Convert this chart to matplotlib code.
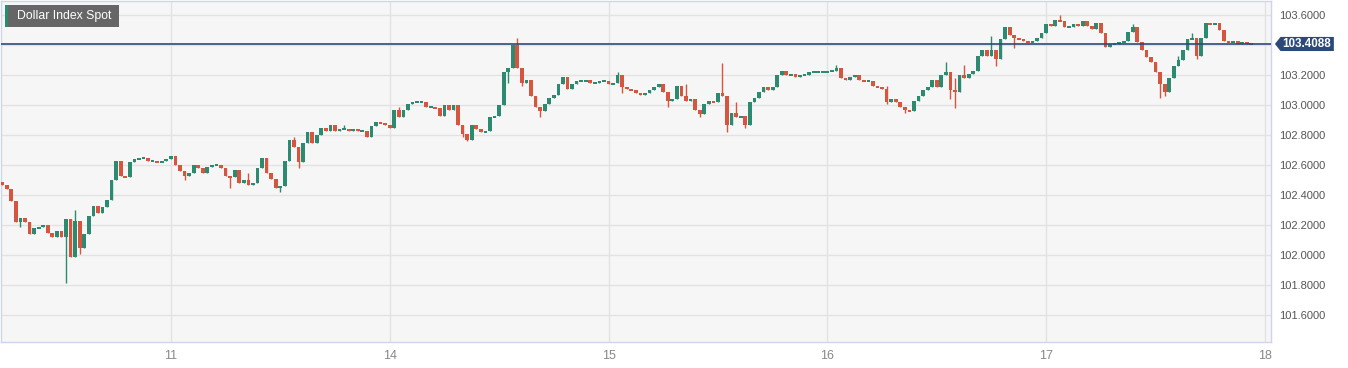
import numpy as np
import matplotlib.pyplot as plt
from matplotlib.patches import Rectangle, Polygon
from matplotlib.transforms import blended_transform_factory

plt.rcParams['font.family'] = ['Liberation Sans', 'DejaVu Sans']

# 30-minute candles, x measured in trading days (0 = start of the 10th)
first_open = 102.49
closes = [
    # 10th
    102.47, 102.44, 102.36, 102.22, 102.25, 102.22, 102.14, 102.18, 102.19, 102.20,
    102.15, 102.12, 102.16, 102.12, 102.24, 101.99, 102.23, 102.05, 102.14, 102.26,
    102.33, 102.28, 102.32, 102.37, 102.50, 102.63, 102.53, 102.52, 102.62, 102.64,
    102.65, 102.65, 102.63, 102.63, 102.62, 102.63, 102.64,
    # 11th
    102.66, 102.60, 102.56, 102.53, 102.55, 102.60, 102.58, 102.55, 102.59, 102.60,
    102.60, 102.58, 102.53, 102.52, 102.57, 102.48, 102.50, 102.47, 102.48, 102.58,
    102.65, 102.55, 102.51, 102.45, 102.46, 102.63, 102.77, 102.72, 102.62, 102.75,
    102.82, 102.75, 102.80, 102.85, 102.83, 102.87, 102.83, 102.84, 102.84, 102.83,
    102.84, 102.83, 102.83, 102.79, 102.86, 102.89, 102.88, 102.87,
    # 14th
    102.85, 102.97, 102.92, 102.97, 103.01, 103.02, 103.02, 103.02, 102.99, 102.99,
    102.98, 102.93, 103.00, 102.97, 103.00, 102.87, 102.81, 102.77, 102.87, 102.84,
    102.82, 102.83, 102.92, 102.93, 103.00, 103.22, 103.25, 103.40, 103.25, 103.15,
    103.17, 103.06, 102.99, 102.96, 103.01, 103.05, 103.07, 103.14, 103.19, 103.11,
    103.14, 103.16, 103.16, 103.17, 103.15, 103.15, 103.16, 103.16,
    # 15th
    103.14, 103.15, 103.20, 103.12, 103.11, 103.10, 103.08, 103.07, 103.08, 103.10,
    103.12, 103.14, 103.09, 103.03, 103.04, 103.13, 103.06, 103.03, 103.04, 102.97,
    102.94, 103.01, 103.03, 103.02, 103.08, 103.06, 102.87, 102.95, 102.92, 102.93,
    102.87, 103.02, 103.05, 103.09, 103.12, 103.10, 103.12, 103.20, 103.23, 103.20,
    103.21, 103.19, 103.20, 103.20, 103.22, 103.22, 103.22, 103.22,
    # 16th
    103.23, 103.23, 103.25, 103.18, 103.17, 103.19, 103.20, 103.17, 103.16, 103.16,
    103.13, 103.12, 103.11, 103.02, 103.04, 103.02, 102.99, 102.97, 102.96, 103.03,
    103.06, 103.10, 103.12, 103.17, 103.12, 103.20, 103.22, 103.10, 103.09, 103.20,
    103.18, 103.21, 103.23, 103.33, 103.37, 103.33, 103.37, 103.31, 103.44, 103.52,
    103.47, 103.45, 103.44, 103.43, 103.42, 103.43, 103.45, 103.48,
    # 17th
    103.54, 103.53, 103.57, 103.56, 103.52, 103.52, 103.54, 103.53, 103.56, 103.53,
    103.51, 103.55, 103.48, 103.39, 103.41, 103.41, 103.42, 103.43, 103.49, 103.52,
    103.42, 103.37, 103.32, 103.29, 103.22, 103.14, 103.09, 103.18, 103.26, 103.30,
    103.37, 103.44, 103.45, 103.33, 103.45, 103.55, 103.54, 103.55, 103.50, 103.43,
    103.42, 103.43, 103.41, 103.42, 103.41, 103.4088,
]

# wick extremes that reach beyond the candle body
wick_highs = {16: 102.30, 54: 102.55, 64: 102.79, 75: 102.87, 87: 102.99,
              113: 103.45, 135: 103.22, 150: 103.14, 158: 103.28, 161: 103.02,
              183: 103.27, 194: 103.13, 207: 103.29, 209: 103.18, 211: 103.27,
              217: 103.46, 232: 103.60, 248: 103.54, 258: 103.33, 261: 103.48}
wick_lows = {4: 102.19, 14: 101.815, 17: 102.01, 40: 102.50, 50: 102.45,
             61: 102.42, 65: 102.58, 101: 102.79, 102: 102.76, 111: 103.15,
             114: 103.13, 118: 102.92, 136: 103.08, 146: 102.99, 153: 102.92,
             159: 102.82, 163: 102.85, 194: 103.01, 198: 102.95, 208: 103.04,
             209: 102.98, 218: 103.26, 222: 103.38, 254: 103.05, 255: 103.06,
             262: 103.31}

day_ticks = [1, 2, 3, 4, 5, 6]
day_labels = ['11', '14', '15', '16', '17', '18']
price_ticks = [101.6, 101.8, 102.0, 102.2, 102.4, 102.6, 102.8, 103.0, 103.2, 103.4, 103.6]
last_price = 103.4088
title = 'Dollar Index Spot'

GREEN = '#2b8a70'
RED = '#d6553f'
NAVY = '#2b4a7a'

closes = np.array(closes)
opens = np.concatenate([[first_open], closes[:-1]])
highs = np.maximum(opens, closes)
lows = np.minimum(opens, closes)
for k, v in wick_highs.items():
    highs[k] = v
for k, v in wick_lows.items():
    lows[k] = v
x = 5.5 / 24 + np.arange(len(closes)) / 48

fig = plt.figure(figsize=(13.48, 3.68), dpi=100)
ax = fig.add_axes([1 / 1348, 26 / 368, 1270 / 1348, 341 / 368])
ax.set_facecolor('#f6f6f6')

up = closes >= opens
colors = np.where(up, GREEN, RED)
ax.vlines(x, lows, highs, colors=colors, linewidth=1, zorder=3)
# tiny bodies are drawn at least ~2px tall so flat candles stay visible
body = np.maximum(np.abs(closes - opens), 0.013)
mid = (opens + closes) / 2
ax.bar(x, body, bottom=mid - body / 2, width=0.017,
       color=colors, linewidth=0, zorder=4)

ax.axhline(last_price, color=NAVY, linewidth=1.2, zorder=5)

ax.set_xlim(1 - 170 / 219, 1 + 1101 / 219)
ax.set_ylim(103.6 - 326.7 / 150, 103.6 + 14.3 / 150)

ax.set_xticks(day_ticks)
ax.set_xticklabels(day_labels)
ax.set_yticks(price_ticks)
# the 103.4 label sits under the last-price tag, so it is left blank
ax.set_yticklabels(['' if abs(p - last_price) < 0.05 else f'{p:.4f}' for p in price_ticks])
ax.yaxis.tick_right()
ax.tick_params(axis='y', length=0, pad=6, labelsize=8, labelcolor='#555555')
ax.tick_params(axis='x', length=0, pad=6, labelsize=9, labelcolor='#888888')
ax.grid(True, color='#e2e2e2', linewidth=1, zorder=0)
ax.set_axisbelow(True)
for s in ax.spines.values():
    s.set_color('#cdd5e8')
    s.set_linewidth(1)

# price tag on the right
tr = blended_transform_factory(ax.transAxes, ax.transData)
h = 0.047
tag = Polygon([(1.0031, last_price), (1.0075, last_price + h), (1.0495, last_price + h),
               (1.0495, last_price - h), (1.0075, last_price - h)],
              closed=True, transform=tr, facecolor=NAVY, edgecolor='none', clip_on=False)
ax.add_patch(tag)
ax.text(1.0283, last_price, f'{last_price:.4f}', transform=tr, ha='center', va='center',
        color='white', fontsize=8.4, fontweight='bold', clip_on=False)

# title box top-left
fig.patches.append(Rectangle((5 / 1348, 1 - 27 / 368), 114 / 1348, 22 / 368,
                             transform=fig.transFigure, facecolor='#666666',
                             edgecolor='none', zorder=6))
fig.patches.append(Rectangle((5 / 1348, 1 - 27 / 368), 2.5 / 1348, 22 / 368,
                             transform=fig.transFigure, facecolor=GREEN,
                             edgecolor='none', zorder=7))
fig.text(17 / 1348, 1 - 16 / 368, title, color='white', fontsize=8.8,
         va='center', ha='left', zorder=8)

fig.savefig('out.png', dpi=100, facecolor='white')
